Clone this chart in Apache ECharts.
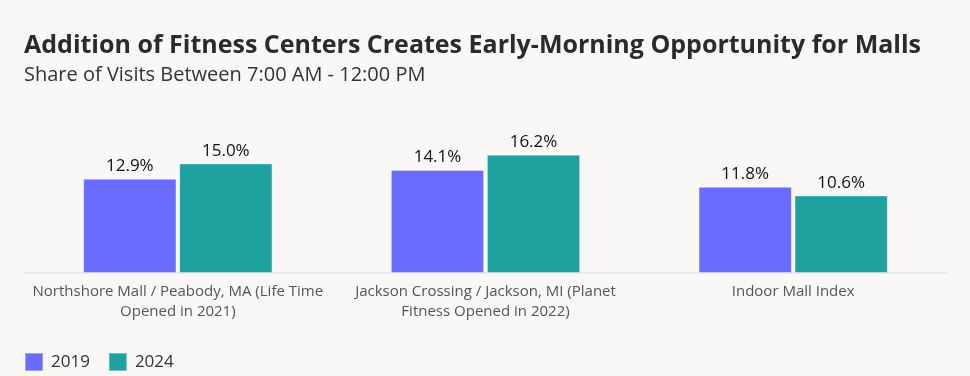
<!DOCTYPE html>
<html>
<head>
<meta charset="utf-8">
<script src="https://cdn.jsdelivr.net/npm/echarts@6/dist/echarts.min.js"></script>
<style>
  html, body { margin: 0; padding: 0; background: #f9f8f7; }
  #container { width: 970px; height: 376px; }
</style>
</head>
<body>
<div id="container"></div>
<script>
  // data
  var categories = [
    'Northshore Mall / Peabody, MA (Life Time\nOpened in 2021)',
    'Jackson Crossing / Jackson, MI (Planet\nFitness Opened in 2022)',
    'Indoor Mall Index'
  ];
  var seriesNames = ['2019', '2024'];
  var values2019 = [12.9, 14.1, 11.8];
  var values2024 = [15.0, 16.2, 10.6];
  var colors = ['#6a6cff', '#1fa19f'];

  var chart = echarts.init(document.getElementById('container'));

  var labelStyle = {
    show: true,
    position: 'top',
    distance: 4,
    fontFamily: 'Open Sans',
    fontSize: 17,
    color: '#111',
    formatter: function (p) { return p.value.toFixed(1) + '%'; }
  };

  var option = {
    backgroundColor: '#f9f8f7',
    color: colors,
    title: [{
      text: 'Addition of Fitness Centers Creates Early-Morning Opportunity for Malls',
      left: 19,
      top: 28,
      textStyle: { fontFamily: 'Open Sans', fontWeight: 'bold', fontSize: 25, color: '#2b2b2b' }
    }, {
      text: 'Share of Visits Between 7:00 AM - 12:00 PM',
      left: 19,
      top: 60,
      textStyle: { fontFamily: 'Open Sans', fontWeight: 'normal', fontSize: 20, color: '#333' }
    }],
    legend: {
      left: 19,
      top: 347,
      itemWidth: 18,
      itemHeight: 18,
      itemGap: 18,
      icon: 'rect',
      textStyle: { fontFamily: 'Open Sans', fontSize: 17, color: '#333', padding: [0, 0, 0, 3] },
      data: seriesNames
    },
    grid: { left: 24, right: 23, top: 127, bottom: 103 },
    xAxis: {
      type: 'category',
      data: categories,
      axisLine: { lineStyle: { color: '#ebebeb', width: 2 } },
      axisTick: { show: false },
      axisLabel: {
        interval: 0,
        fontFamily: 'Open Sans',
        fontSize: 15,
        color: '#555',
        lineHeight: 20,
        margin: 9
      }
    },
    yAxis: {
      type: 'value',
      min: 0,
      max: 20,
      show: false,
      splitLine: { show: false }
    },
    series: [{
      name: seriesNames[0],
      type: 'bar',
      data: values2019,
      barCategoryGap: '38.5%',
      barGap: '3%',
      itemStyle: { borderColor: 'rgba(255,255,255,0.35)', borderWidth: 1 },
      label: labelStyle
    }, {
      name: seriesNames[1],
      type: 'bar',
      data: values2024,
      itemStyle: { borderColor: 'rgba(255,255,255,0.35)', borderWidth: 1 },
      label: labelStyle
    }]
  };

  chart.setOption(option);
</script>
</body>
</html>
